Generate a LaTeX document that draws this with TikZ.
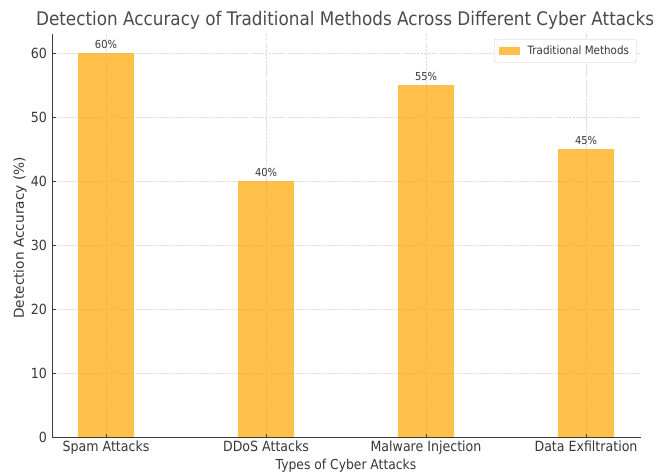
\documentclass[tikz,border=0pt]{standalone}
\usepackage{fontspec}
\setmainfont{DejaVu Sans}
\definecolor{barorange}{RGB}{255,165,0}
\definecolor{axisgray}{RGB}{60,60,60}
\definecolor{textgray}{RGB}{55,55,55}
\newcommand{\narrow}[1]{\scalebox{0.9}[1]{#1}}
\begin{document}
\begin{tikzpicture}[x=1pt,y=-1pt,
    bar/.style={rectangle, fill=barorange, fill opacity=0.7, minimum width=56pt, inner sep=0pt, anchor=south},
    gridline/.style={gray!28, dash pattern=on 2.5pt off 1.3pt, line width=0.5pt},
    spine/.style={axisgray, line width=0.9pt},
    ticklabel/.style={text=textgray, font=\fontsize{14}{16}\selectfont, inner sep=1pt},
    valuelabel/.style={text=textgray, font=\fontsize{11}{13}\selectfont, anchor=south, inner sep=1pt}
  ]
  \useasboundingbox (0,0) rectangle (660,475);

  % grid
  \foreach \v in {0,10,...,60}
    \draw[gridline] (52,437-6.4*\v) -- (641,437-6.4*\v);
  \foreach \i in {0,...,3}
    \draw[gridline] (106+160*\i,34) -- (106+160*\i,437);

  % bars
  \foreach \v [count=\i from 0] in {60,40,55,45} {
    \node(bar\i) at (106+160*\i,437) [bar, minimum height=6.4*\v pt] {};
    \node(val\i) at (bar\i.north) [valuelabel, yshift=2.5pt] {\narrow{\v\%}};
  }

  % spines and ticks
  \draw[spine] (52,34) -- (52,437) -- (641,437);
  \foreach \v in {0,10,...,60} {
    \draw[spine] (52,437-6.4*\v) -- (55.5,437-6.4*\v);
    \node(ytick\v) at (48,437-6.4*\v) [ticklabel, anchor=east] {\narrow{\v}};
  }
  \foreach \name [count=\i from 0] in {Spam Attacks,DDoS Attacks,Malware Injection,Data Exfiltration} {
    \draw[spine] (106+160*\i,437) -- (106+160*\i,433.5);
    \node(xtick\i) at (106+160*\i,440) [ticklabel, anchor=north] {\narrow{\name}};
  }

  % labels
  \node(xlabel) at (346,466) [text=textgray, font=\fontsize{13.7}{16}\selectfont] {\narrow{Types of Cyber Attacks}};
  \node(ylabel) at (20,238) [text=textgray, font=\fontsize{13.7}{16}\selectfont, rotate=90] {Detection Accuracy (\%)};
  \node(title) at (345,20) [text=textgray!90, font=\fontsize{18.7}{21}\selectfont] {\narrow{Detection Accuracy of Traditional Methods Across Different Cyber Attacks}};

  % legend
  \node(legendbox) at (494,39) [draw=gray!40, fill=white, rounded corners=2pt, minimum width=142pt, minimum height=23pt, anchor=north west, inner sep=0pt] {};
  \node(legendkey) at (499,50.5) [rectangle, fill=barorange, fill opacity=0.7, minimum width=21pt, minimum height=8pt, inner sep=0pt, anchor=west] {};
  \node(legendtext) at (legendkey.east) [anchor=west, xshift=6pt, text=textgray, font=\fontsize{11.5}{13}\selectfont, inner sep=1pt] {\narrow{Traditional Methods}};
\end{tikzpicture}
\end{document}
